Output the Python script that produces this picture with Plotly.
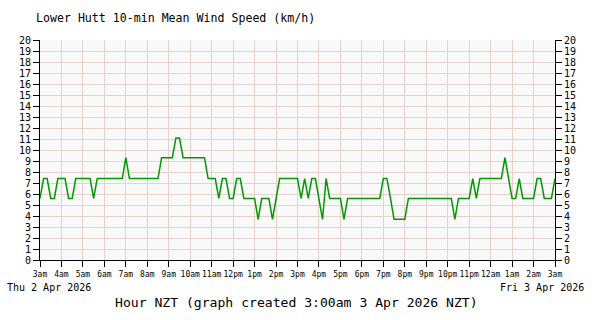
import plotly.graph_objects as go
import pandas as pd

# 10-minute mean wind speed (km/h), 3:00am Thu 2 Apr 2026 -> 3:00am Fri 3 Apr 2026
speed_kmh = [
    5.6, 7.4, 7.4, 5.6, 5.6, 7.4, 7.4, 7.4, 5.6, 5.6,
    7.4, 7.4, 7.4, 7.4, 7.4, 5.6, 7.4, 7.4, 7.4, 7.4,
    7.4, 7.4, 7.4, 7.4, 9.3, 7.4, 7.4, 7.4, 7.4, 7.4,
    7.4, 7.4, 7.4, 7.4, 9.3, 9.3, 9.3, 9.3, 11.1, 11.1,
    9.3, 9.3, 9.3, 9.3, 9.3, 9.3, 9.3, 7.4, 7.4, 7.4,
    5.6, 7.4, 7.4, 5.6, 5.6, 7.4, 7.4, 5.6, 5.6, 5.6,
    5.6, 3.7, 5.6, 5.6, 5.6, 3.7, 5.6, 7.4, 7.4, 7.4,
    7.4, 7.4, 7.4, 5.6, 7.4, 5.6, 7.4, 7.4, 5.6, 3.7,
    7.4, 5.6, 5.6, 5.6, 5.6, 3.7, 5.6, 5.6, 5.6, 5.6,
    5.6, 5.6, 5.6, 5.6, 5.6, 5.6, 7.4, 7.4, 5.6, 3.7,
    3.7, 3.7, 3.7, 5.6, 5.6, 5.6, 5.6, 5.6, 5.6, 5.6,
    5.6, 5.6, 5.6, 5.6, 5.6, 5.6, 3.7, 5.6, 5.6, 5.6,
    5.6, 7.4, 5.6, 7.4, 7.4, 7.4, 7.4, 7.4, 7.4, 7.4,
    9.3, 7.4, 5.6, 5.6, 7.4, 5.6, 5.6, 5.6, 5.6, 7.4,
    7.4, 5.6, 5.6, 5.6, 7.4,
]
start_time = "2026-04-02 03:00"
times = pd.date_range(start_time, periods=len(speed_kmh), freq="10min")

hour_labels = ["3am", "4am", "5am", "6am", "7am", "8am", "9am", "10am", "11am",
               "12pm", "1pm", "2pm", "3pm", "4pm", "5pm", "6pm", "7pm", "8pm",
               "9pm", "10pm", "11pm", "12am", "1am", "2am", "3am"]
hour_ticks = pd.date_range(start_time, periods=len(hour_labels), freq="1h")
y_ticks = list(range(0, 21))

title_text = "Lower Hutt 10-min Mean Wind Speed (km/h)"
x_title_text = "Hour NZT (graph created 3:00am 3 Apr 2026 NZT)"
start_date_text = "Thu 2 Apr 2026"
end_date_text = "Fri 3 Apr 2026"

MONO = "DejaVu Sans Mono"
GRID = "#e6d2ca"

fig = go.Figure()
fig.add_trace(go.Scatter(x=times, y=speed_kmh, mode="lines",
                         line=dict(color="#009900", width=1.5),
                         hoverinfo="skip", showlegend=False))
# invisible trace to activate right-hand axis
fig.add_trace(go.Scatter(x=times, y=speed_kmh, mode="lines", yaxis="y2",
                         line=dict(color="rgba(0,0,0,0)", width=0),
                         hoverinfo="skip", showlegend=False))

axis_common = dict(range=[0, 20], tickvals=y_ticks, ticktext=[str(v) for v in y_ticks],
                   ticks="outside", ticklen=6, tickcolor="black", tickwidth=1,
                   showline=True, linecolor="black", linewidth=1,
                   tickfont=dict(family=MONO, size=10, color="black"),
                   zeroline=False, fixedrange=True)

fig.update_layout(
    width=600, height=320,
    margin=dict(l=40, r=45, t=40, b=60, pad=0),
    paper_bgcolor="white",
    plot_bgcolor="#f9f9f9",
    xaxis=dict(range=[hour_ticks[0], hour_ticks[-1]], tickvals=hour_ticks, ticktext=hour_labels,
               ticks="outside", ticklen=6, tickcolor="black", tickwidth=1,
               showline=True, linecolor="black", linewidth=1,
               showgrid=True, gridcolor=GRID, gridwidth=1,
               tickfont=dict(family=MONO, size=8, color="black"),
               tickangle=0, zeroline=False),
    yaxis=dict(side="left", showgrid=True, gridcolor=GRID, gridwidth=1, **axis_common),
    yaxis2=dict(side="right", overlaying="y", showgrid=False, **axis_common),
    annotations=[
        dict(text=title_text, xref="paper", yref="paper", x=-6/515, y=(260-18)/220,
             xanchor="left", yanchor="middle", showarrow=False,
             font=dict(family=MONO, size=11.6, color="black")),
        dict(text=start_date_text, xref="paper", yref="paper", x=-35/515, y=(260-287)/220,
             xanchor="left", yanchor="middle", showarrow=False,
             font=dict(family=MONO, size=10, color="black")),
        dict(text=end_date_text, xref="paper", yref="paper", x=(586-40)/515, y=(260-287)/220,
             xanchor="right", yanchor="middle", showarrow=False,
             font=dict(family=MONO, size=10, color="black")),
        dict(text=x_title_text, xref="paper", yref="paper", x=(296-40)/515, y=(260-302)/220,
             xanchor="center", yanchor="middle", showarrow=False,
             font=dict(family=MONO, size=13.1, color="black")),
    ],
)

fig.write_html("out.html")
